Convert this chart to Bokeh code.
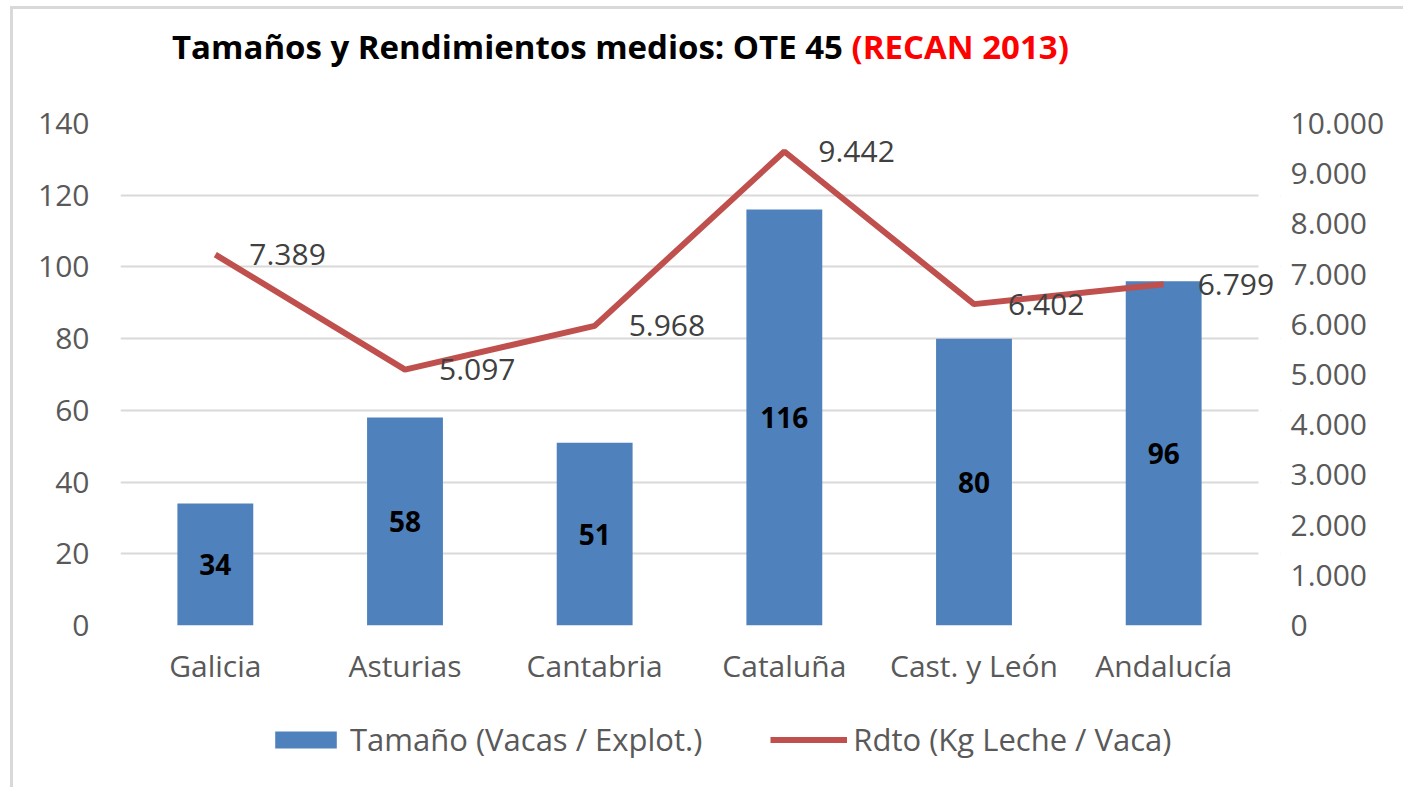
from bokeh.plotting import figure
from bokeh.models import (ColumnDataSource, Range1d, LinearAxis, SingleIntervalTicker, FixedTicker,
                          CustomJSTickFormatter, Legend, LegendItem, Div, LabelSet, BoxAnnotation)
from bokeh.layouts import column
from bokeh.core.properties import value
from bokeh.embed import file_html
from bokeh.resources import INLINE

# ---- data ----
regions = ["Galicia", "Asturias", "Cantabria", "Cataluña", "Cast. y León", "Andalucía"]
tamano = [34, 58, 51, 116, 80, 96]
rdto = [7389, 5097, 5968, 9442, 6402, 6799]
title_main = "Tamaños y Rendimientos medios: OTE 45"
title_red = "(RECAN 2013)"
series_names = ["Tamaño (Vacas / Explot.)", "Rdto (Kg Leche / Vaca)"]

FONT = "Open Sans"
BAR = "#4F81BD"
LINE = "#C0504D"
GRAY = "#595959"
W = 1395
TITLE_H = 80
MAIN_H = 620
LEG_H = 779 - TITLE_H - MAIN_H
FRAME_L, FRAME_R = 120, 1280      # frame in page pixels (extra room right for the last label)
PLOT_R = 1258                     # right edge of the category area / gridlines


def miles(v):
    return f"{v:,}".replace(",", ".")


n = len(regions)
xpos = [i + 0.5 for i in range(n)]          # category centres on a numeric scale
px_per_cat = (PLOT_R - FRAME_L) / n
x_end = n + (FRAME_R - PLOT_R) / px_per_cat

src = ColumnDataSource(dict(
    x=xpos, tam=tamano, tam_mid=[v / 2 for v in tamano],
    tam_lab=[str(v) for v in tamano],
    rdto=rdto, rdto_lab=[miles(v) for v in rdto],
))

title_div = Div(
    text=('<div style="position:absolute; left:10px; top:6px; width:1400px; height:790px; '
          'border-left:3px solid #D9D9D9; border-top:3px solid #D9D9D9; pointer-events:none;"></div>'
          f'<div style="font-family:\'Open Sans\'; font-weight:bold; font-size:33px; '
          f'line-height:40px; white-space:nowrap; padding-top:27px; padding-left:172px; color:black;">'
          f'{title_main} <span style="color:#FF0000;">{title_red}</span></div>'),
    width=W, height=TITLE_H, margin=0, styles={"overflow": "visible"})

p = figure(x_range=Range1d(0, x_end), y_range=Range1d(0, 140), width=W, height=MAIN_H,
           output_backend="svg", toolbar_location=None,
           min_border_left=FRAME_L, min_border_right=W - FRAME_R, min_border_top=123 - TITLE_H,
           min_border_bottom=TITLE_H + MAIN_H - 625)
p.outline_line_color = None
p.background_fill_color = "white"
p.border_fill_alpha = 0
p.extra_y_ranges = {"rdto": Range1d(0, 10000)}

# gridlines
p.xgrid.grid_line_color = None
p.ygrid.grid_line_color = "#D9D9D9"
p.ygrid.grid_line_width = 2
p.ygrid.ticker = SingleIntervalTicker(interval=20)

# left axis
ly = p.yaxis[0]
ly.ticker = SingleIntervalTicker(interval=20)
ly.axis_line_color = None
ly.major_tick_line_color = None
ly.minor_tick_line_color = None
ly.major_label_text_font = FONT
ly.major_label_text_font_size = "30px"
ly.major_label_text_color = GRAY
ly.major_label_standoff = 25

# right axis
ry = LinearAxis(y_range_name="rdto", ticker=SingleIntervalTicker(interval=1000))
ry.formatter = CustomJSTickFormatter(code="""
return tick.toFixed(0).replace(/\\B(?=(\\d{3})+(?!\\d))/g, ".");
""")
ry.axis_line_color = None
ry.major_tick_line_color = None
ry.minor_tick_line_color = None
ry.major_label_text_font = FONT
ry.major_label_text_font_size = "30px"
ry.major_label_text_color = GRAY
ry.major_label_standoff = 4
p.add_layout(ry, "right")

# x axis (category names at the category centres)
xa = p.xaxis[0]
xa.ticker = FixedTicker(ticks=xpos)
xa.major_label_overrides = {x: r for x, r in zip(xpos, regions)}
xa.axis_line_color = None
xa.major_tick_line_color = None
xa.minor_tick_line_color = None
xa.major_label_text_font = FONT
xa.major_label_text_font_size = "30px"
xa.major_label_text_color = GRAY
xa.major_label_standoff = 13

# bars
p.vbar(x="x", top="tam", width=0.4, source=src, fill_color=BAR, line_color=None)
p.text(x="x", y="tam_mid", text="tam_lab", source=src, text_align="center",
       text_baseline="middle", text_font=value(FONT), text_font_style="bold",
       text_font_size="28px", text_color="black")

# line
p.line(x="x", y="rdto", source=src, y_range_name="rdto", line_color=LINE, line_width=6)

# blank out the gridlines beyond the category area
p.add_layout(BoxAnnotation(left=n, fill_color="white", fill_alpha=1, line_color=None))

p.add_layout(LabelSet(x="x", y="rdto", text="rdto_lab", source=src, y_range_name="rdto",
                      x_offset=34, text_align="left", text_baseline="middle",
                      text_font=value(FONT), text_font_size="30px", text_color="#404040"))

# legend strip (separate figure so the legend is not clipped)
lf = figure(width=W, height=LEG_H, x_range=Range1d(0, x_end), y_range=Range1d(0, 1),
            output_backend="svg", toolbar_location=None,
            x_axis_location=None, y_axis_location=None,
            min_border_left=FRAME_L, min_border_right=W - FRAME_R,
            min_border_top=0, min_border_bottom=0)
lf.outline_line_color = None
lf.border_fill_alpha = 0
lf.background_fill_alpha = 0
lf.xgrid.grid_line_color = None
lf.ygrid.grid_line_color = None
lb = lf.vbar(x="x", top="tam", width=0.4, source=src, fill_color=BAR, line_color=None, visible=False)
ll = lf.line(x="x", y="rdto", source=src, line_color=LINE, line_width=6, visible=False)
legend = Legend(items=[LegendItem(label=series_names[0], renderers=[lb]),
                       LegendItem(label=series_names[1], renderers=[ll])],
                orientation="horizontal", location=(267 - FRAME_L, LEG_H - 39 - 21),
                glyph_width=77, glyph_height=21, label_standoff=6, spacing=68,
                padding=0, margin=0, border_line_color=None, background_fill_alpha=0,
                inactive_fill_alpha=0,
                label_text_font=FONT, label_text_font_size="31px", label_text_color=GRAY)
lf.add_layout(legend, "center")

layout = column(title_div, p, lf, spacing=0)
open("out.html", "w").write(file_html(layout, INLINE))
